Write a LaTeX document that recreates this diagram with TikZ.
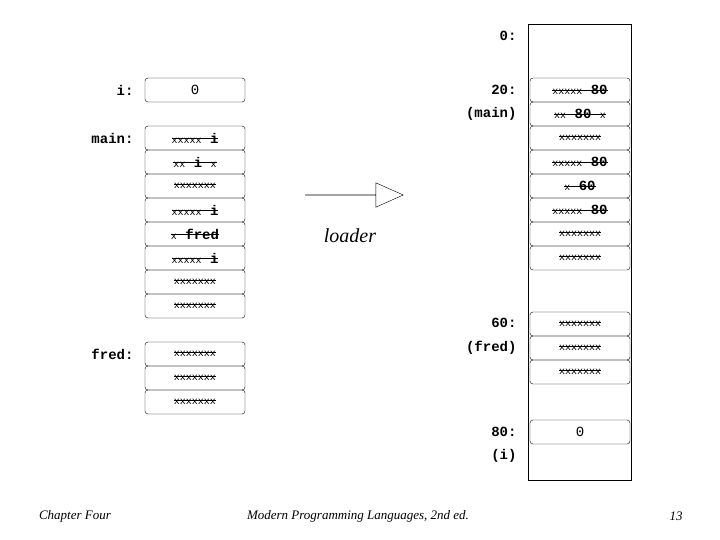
\documentclass[tikz,border=0pt]{standalone}
\usepackage{fontspec}
\setmainfont{Liberation Serif}
\setmonofont{Liberation Mono}
\usetikzlibrary{shapes.arrows}
\newcommand{\xo}[1]{\setbox0\hbox{#1}\rlap{\rule[.3em]{\wd0}{.9pt}}\box0}
\newcommand{\xs}[1]{{\fontsize{10}{12}\selectfont #1}}
\tikzset{
  cell/.style={draw, rounded corners=3pt, minimum width=100pt, minimum height=24pt, inner sep=0pt, font=\ttfamily\fontsize{14}{16}\selectfont},
  lbl/.style={anchor=east, font=\ttfamily\bfseries\fontsize{14}{16}\selectfont},
  foot/.style={font=\itshape\fontsize{13}{15}\selectfont}
}
\begin{document}
\begin{tikzpicture}[x=1pt,y=-1pt]
  \useasboundingbox (0,0) rectangle (720,540);
  % object files
  \node[lbl] (li) at (137,90) {i:};
  \node[cell] (ci) at (195,90) {0};
  \node[lbl] (lm) at (137,138) {main:};
  \foreach \t [count=\k] in {{\xs{xxxxx} \textbf{i}},{\xs{xx} \textbf{i} \xs{x}},\xs{xxxxxxx},{\xs{xxxxx} \textbf{i}},{\xs{x} \textbf{fred}},{\xs{xxxxx} \textbf{i}},\xs{xxxxxxx},\xs{xxxxxxx}}
    \node[cell] (m\k) at (195,114+24*\k) {\xo{\t}};
  \node[lbl] (lf) at (137,354) {fred:};
  \foreach \k in {1,2,3}
    \node[cell] (f\k) at (195,330+24*\k) {\xo{\xs{xxxxxxx}}};
  % loader
  \node[draw, single arrow, minimum height=98pt, minimum width=20pt, single arrow head extend=12pt, single arrow tip angle=48, inner sep=0pt] (ar) at (354,195) {};
  \node[font=\itshape\fontsize{20}{24}\selectfont] (ld) at (350,236) {loader};
  % memory
  \node[draw, minimum width=103pt, minimum height=456pt, inner sep=0pt] (mem) at (579.5,252) {};
  \node[lbl] (a0) at (520,36) {0:};
  \node[lbl] (a20) at (520,90) {20:};
  \node[lbl] (a20b) at (520,114) {(main)};
  \foreach \t [count=\k] in {{\xs{xxxxx} \textbf{80}},{\xs{xx} \textbf{80} \xs{x}},\xs{xxxxxxx},{\xs{xxxxx} \textbf{80}},{\xs{x} \textbf{60}},{\xs{xxxxx} \textbf{80}},\xs{xxxxxxx},\xs{xxxxxxx}}
    \node[cell] (r\k) at (580,66+24*\k) {\xo{\t}};
  \node[lbl] (a60) at (520,323) {60:};
  \node[lbl] (a60b) at (520,348) {(fred)};
  \foreach \k in {1,2,3}
    \node[cell] (s\k) at (580,300+24*\k) {\xo{\xs{xxxxxxx}}};
  \node[lbl] (a80) at (520,432) {80:};
  \node[lbl] (a80b) at (520,456) {(i)};
  \node[cell] (ri) at (580,432) {0};
  % footer
  \node[foot] (ch) at (75,516) {Chapter Four};
  \node[foot] (bk) at (358,516) {Modern Programming Languages, 2nd ed.};
  \node[foot] (pg) at (676,516) {13};
\end{tikzpicture}
\end{document}
